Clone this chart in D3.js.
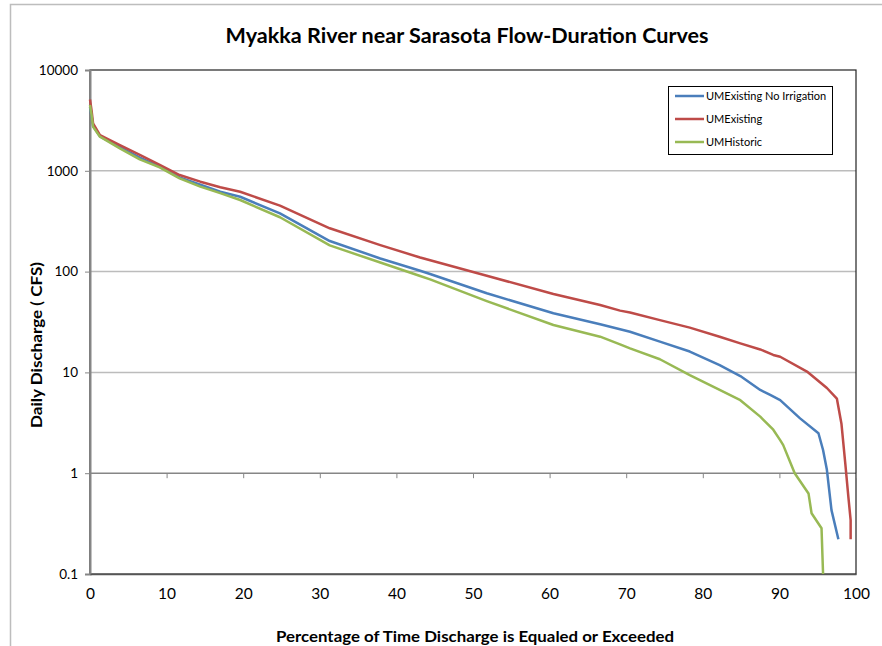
<!DOCTYPE html>
<html>
<head>
<meta charset="utf-8">
<script src="https://cdn.jsdelivr.net/npm/d3@7"></script>
<style>
  body { margin: 0; background: #fff; }
  svg { display: block; font-family: Lato, "Open Sans", sans-serif; }
</style>
</head>
<body>
<div id="chart"></div>
<script>
(function() {
    'use strict';

    // percent of time exceeded, daily discharge (cfs)
    var noIrrigation = [
        [0, 4300], [0.2, 3500], [0.4, 2800], [1.3, 2200], [3.9, 1720], [6.5, 1350],
        [9.1, 1100], [11.7, 860], [14.4, 730], [17, 620], [19.6, 553], [24.8, 378],
        [31.3, 201], [37.9, 135], [43.1, 102], [44.4, 94.6], [51.8, 61], [60.5, 38.6],
        [66.6, 30], [70.5, 25.3], [74.4, 20.2], [78.3, 16.1], [82.2, 11.8], [84.9, 9.2],
        [87.5, 6.7], [88.8, 5.97], [90.1, 5.3], [92.7, 3.5], [95.1, 2.49], [95.7, 1.7],
        [96.2, 1.08], [96.8, 0.43], [97.7, 0.221]
    ];
    var existing = [
        [0, 5100], [0.2, 4000], [0.4, 2960], [1.3, 2265], [3.9, 1800], [6.5, 1436],
        [9.1, 1142], [11.7, 908], [14.4, 780], [17, 686], [19.6, 620], [24.8, 451],
        [31.3, 269], [37.9, 183], [43.1, 138], [51.8, 91], [60.5, 60],
        [66.6, 46.6], [69.2, 41], [70.5, 39.3], [74.4, 33], [78.3, 27.8], [82.2, 22.6],
        [84.9, 19.4], [87.5, 16.9], [89.2, 14.9], [90.1, 14.3], [93.6, 10.2], [96.2, 7],
        [97.5, 5.5], [98.1, 3.1], [98.6, 1.25], [99.0, 0.585], [99.3, 0.343], [99.3, 0.221]
    ];
    var historic = [
        [0, 4500], [0.2, 3600], [0.4, 2740], [1.3, 2180], [3.9, 1670], [6.5, 1300],
        [9.1, 1081], [11.7, 841], [14.4, 696], [17, 600], [19.6, 513], [24.8, 346],
        [31.3, 182], [37.9, 123], [43.1, 90.4], [44.4, 83.8], [51.8, 51], [60.5, 29.5],
        [66.6, 22.6], [69.2, 19], [70.5, 17.3], [74.4, 13.5], [78.3, 9.4], [82.2, 6.7],
        [84.9, 5.3], [87.5, 3.64], [89.2, 2.7], [90.1, 2.13], [90.5, 1.9], [92.0, 1.0],
        [93.8, 0.63], [94.2, 0.4], [95.5, 0.284], [95.7, 0.1]
    ];

    var seriesNames = ["UMExisting No Irrigation", "UMExisting", "UMHistoric"];
    var seriesData = [noIrrigation, existing, historic];
    var seriesColors = ["#4a7ebb", "#be4b48", "#98b954"];

    var yTicks = [0.1, 1, 10, 100, 1000, 10000];
    var xTicks = [0, 10, 20, 30, 40, 50, 60, 70, 80, 90, 100];

    var width = 882, height = 646;
    var plot = {left: 90, right: 856, top: 70, bottom: 574};

    var x = d3.scaleLinear().domain([0, 100]).range([plot.left, plot.right]);
    var y = d3.scaleLog().domain([0.1, 10000]).range([plot.bottom, plot.top]);

    var svg = d3.select("#chart").append("svg")
        .attr("width", width)
        .attr("height", height);

    // outer chart border (partially cut off)
    svg.append("rect")
        .attr("x", 10.5).attr("y", 4.5)
        .attr("width", 900).attr("height", 700)
        .attr("fill", "none")
        .attr("stroke", "#bdbdbd")
        .attr("stroke-width", 1.5);

    svg.append("text")
        .attr("x", 467).attr("y", 43)
        .attr("text-anchor", "middle")
        .attr("textLength", 483)
        .attr("lengthAdjust", "spacingAndGlyphs")
        .style("font-weight", "bold")
        .style("font-size", "20px")
        .text("Myakka River near Sarasota Flow-Duration Curves");

    // gridlines
    svg.append("g")
        .selectAll("line")
        .data(yTicks.filter(d => d > 0.1 && d < 10000))
        .enter().append("line")
        .attr("x1", plot.left).attr("x2", plot.right)
        .attr("y1", d => y(d)).attr("y2", d => y(d))
        .attr("stroke", d => d === 1 ? "#868686" : "#bcbcbc")
        .attr("stroke-width", 1.5);

    // plot frame
    svg.append("rect")
        .attr("x", plot.left).attr("y", plot.top)
        .attr("width", plot.right - plot.left)
        .attr("height", plot.bottom - plot.top)
        .attr("fill", "none")
        .attr("stroke", "#222")
        .attr("stroke-width", 1.2);

    // y axis
    var yAxis = svg.append("g")
        .attr("transform", "translate(" + plot.left + ",0)")
        .call(d3.axisLeft(y).tickValues(yTicks)
            .tickFormat(d => d < 1 ? d3.format(".1f")(d) : d3.format("d")(d))
            .tickSize(5).tickPadding(7));
    yAxis.select(".domain").attr("stroke", "#868686").attr("stroke-width", 2);
    yAxis.selectAll(".tick line").attr("stroke", "#868686");
    yAxis.selectAll("text").style("font-size", "13.5px").attr("fill", "#000")
        .style("font-family", "Lato, sans-serif");

    // x axis crosses at 1 (tick marks only)
    var xCross = svg.append("g")
        .attr("transform", "translate(0," + y(1) + ")")
        .call(d3.axisBottom(x).tickValues(xTicks).tickSize(5).tickFormat(""));
    xCross.select(".domain").remove();
    xCross.selectAll(".tick line").attr("stroke", "#868686");

    // x labels at bottom
    var xAxis = svg.append("g")
        .attr("transform", "translate(0," + plot.bottom + ")")
        .call(d3.axisBottom(x).tickValues(xTicks).tickSize(0).tickPadding(14));
    xAxis.select(".domain").attr("stroke", "#555").attr("stroke-width", 1.5);
    xAxis.selectAll("text").style("font-size", "15.5px").attr("fill", "#000")
        .style("font-family", "Lato, sans-serif");

    svg.append("text")
        .attr("x", 475).attr("y", 642)
        .attr("text-anchor", "middle")
        .attr("textLength", 398)
        .attr("lengthAdjust", "spacingAndGlyphs")
        .style("font-weight", "bold")
        .style("font-size", "16px")
        .text("Percentage of Time Discharge is Equaled or Exceeded");

    svg.append("text")
        .attr("transform", "translate(42,345) rotate(-90)")
        .attr("text-anchor", "middle")
        .attr("textLength", 166)
        .attr("lengthAdjust", "spacingAndGlyphs")
        .style("font-weight", "bold")
        .style("font-size", "16px")
        .text("Daily Discharge ( CFS)");

    // curves
    var line = d3.line()
        .x(d => x(d[0]))
        .y(d => y(d[1]));

    svg.append("g")
        .selectAll("path")
        .data(seriesData)
        .enter().append("path")
        .attr("d", line)
        .attr("fill", "none")
        .attr("stroke", (d, i) => seriesColors[i])
        .attr("stroke-width", 2.5)
        .attr("stroke-linejoin", "round");

    // legend
    var legend = svg.append("g").attr("transform", "translate(668,86)");
    legend.append("rect")
        .attr("x", 0.5).attr("y", 0.5)
        .attr("width", 164).attr("height", 68)
        .attr("fill", "#fff")
        .attr("stroke", "#000");

    var items = legend.selectAll(".legend")
        .data(seriesNames)
        .enter().append("g")
        .attr("class", "legend")
        .attr("transform", (d, i) => "translate(0," + (10 + i * 23) + ")");
    items.append("line")
        .attr("x1", 7).attr("x2", 36)
        .attr("stroke", (d, i) => seriesColors[i])
        .attr("stroke-width", 2.5);
    items.append("text")
        .attr("x", 38).attr("dy", "0.35em")
        .style("font-size", "11px")
        .text(d => d);
})();
</script>
</body>
</html>
